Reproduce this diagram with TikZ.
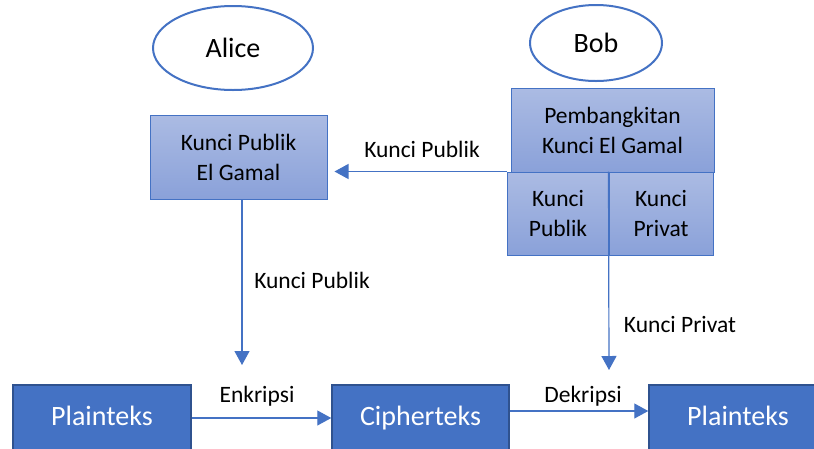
\documentclass[tikz,border=0pt]{standalone}
\usepackage{fontspec}
\setmainfont{Carlito}
\usetikzlibrary{arrows.meta,shapes.geometric}
\definecolor{accent}{HTML}{4472C4}
\definecolor{darkacc}{HTML}{2F528F}
\definecolor{lighttop}{RGB}{171,187,227}
\definecolor{lightbot}{RGB}{138,161,217}
\tikzset{
  person/.style={ellipse, draw=accent, line width=2pt, fill=white, inner sep=0pt, font=\fontsize{28}{34}\selectfont},
  keybox/.style={rectangle, draw=accent, line width=1pt, top color=lighttop, bottom color=lightbot, inner sep=0pt, align=center, font=\fontsize{23.5}{30}\selectfont},
  textbox/.style={rectangle, draw=darkacc, line width=1.5pt, fill=accent, text=white, inner sep=0pt, text height=12pt, text depth=7pt, font=\fontsize{28}{34}\selectfont},
  conn/.style={draw=accent, line width=1.2pt, -{Triangle[width=15pt,length=14pt]}},
  lbl/.style={font=\fontsize{23.5}{30}\selectfont, anchor=base, inner sep=0pt}
}
\begin{document}
\begin{tikzpicture}[x=1pt,y=-1pt]
\useasboundingbox (0,0) rectangle (814,448);
\fill[white] (0,0) rectangle (814,448);
% persons
\node[person, minimum width=160pt, minimum height=84pt] (alice) at (233,48) {Alice};
\node[person, minimum width=132pt, minimum height=76pt] (bob) at (596,43) {Bob};
% key boxes
\node[keybox, minimum width=177pt, minimum height=84pt] (akey) at (238.5,157) {Kunci Publik\\El Gamal};
\node[keybox, minimum width=203pt, minimum height=84pt] (gen) at (612.5,130) {Pembangkitan\\Kunci El Gamal};
\node[keybox, minimum width=102pt, minimum height=83pt] (pub) at (558,213.5) {Kunci\\Publik};
\node[keybox, minimum width=104pt, minimum height=83pt] (priv) at (661,213.5) {Kunci\\Privat};
% bottom boxes
\node[textbox, minimum width=178pt, minimum height=75pt] (plain1) at (102,422.5) {Plainteks};
\node[textbox, minimum width=177pt, minimum height=75pt] (cipher) at (420.5,422.5) {Cipherteks};
\node[textbox, minimum width=200pt, minimum height=75pt, xshift=11pt] (plain2) at (738,422.5) {\hspace*{-22pt}Plainteks};
% arrow end points
\coordinate (encin) at (242,365);
\coordinate (decin) at (609,370);
% connectors
\draw[conn, shorten >=7pt] (pub.north west) -- (pub.north west -| akey.east);
\draw[conn] (akey.south -| encin) -- (encin);
\draw[conn] (priv.north west) -- (decin);
\draw[conn] (plain1.east |- 0,418) -- (cipher.west |- 0,418);
\draw[conn] (cipher.east |- 0,411) -- (plain2.west |- 0,411);
% labels
\node[lbl] (l1) at (422,157) {Kunci Publik};
\node[lbl] (l2) at (312,288) {Kunci Publik};
\node[lbl] (l3) at (680,332) {Kunci Privat};
\node[lbl] (l4) at (257,402) {Enkripsi};
\node[lbl] (l5) at (583,402) {Dekripsi};
\end{tikzpicture}
\end{document}
